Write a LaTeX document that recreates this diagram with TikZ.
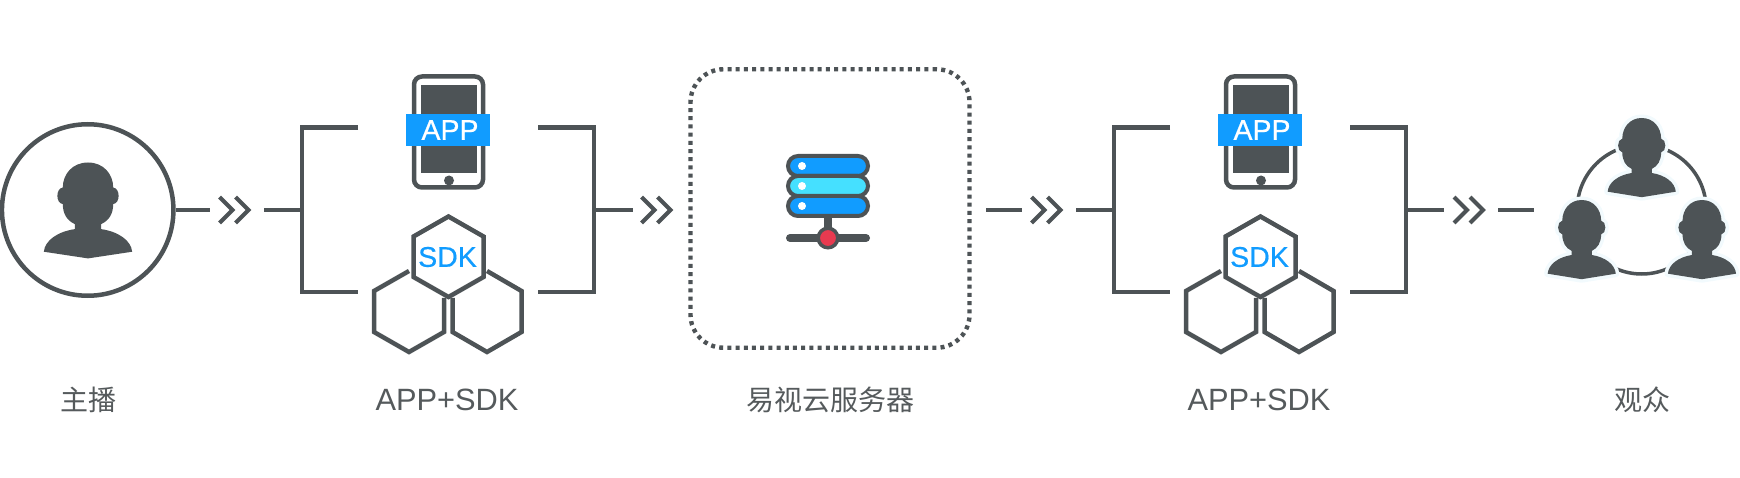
\documentclass[tikz,border=0pt]{standalone}
\usepackage{fontspec}
\setmainfont{Liberation Sans}
\newfontfamily\cjk{Noto Sans CJK SC}
\newfontfamily\semi[FakeBold=0.5]{Liberation Sans}
\definecolor{ink}{HTML}{4D5356}
\definecolor{txt}{HTML}{555A5C}
\definecolor{blu}{HTML}{119CFF}
\definecolor{cya}{HTML}{45E0FF}
\definecolor{rd}{HTML}{E83A50}
\definecolor{halo}{HTML}{F2FAFD}
\tikzset{
  wire/.style={draw=ink,line width=4.5pt,line join=miter},
  chevline/.style={draw=ink,line width=4.2pt},
  label/.style={font=\fontsize{28}{32}\selectfont,text=txt,inner sep=0pt,anchor=center},
  rowbox/.style={draw=ink,line width=4pt,rounded corners=10pt},
  pics/chev/.style={code={
    \draw[chevline] (0,-13)--(13,0)--(0,13);
    \draw[chevline] (16,-13)--(29,0)--(16,13);
  }}
}
\newcommand\personshape[5]{%
  \begin{scope}[shift={(#1,#2)},xscale=#3,yscale=#4]
  \path[#5] (0,0) .. controls (45,0) and (73,35) .. (73,75)
    .. controls (94,78) and (94,122) .. (73,125)
    .. controls (73,155) and (60,175) .. (38,185)
    -- (38,200) .. controls (90,208) and (125,235) .. (128,268)
    -- (0,288) -- (-128,268)
    .. controls (-125,235) and (-90,208) .. (-38,200)
    -- (-38,185) .. controls (-60,175) and (-73,155) .. (-73,125)
    .. controls (-94,122) and (-94,78) .. (-73,75)
    .. controls (-73,35) and (-45,0) .. (0,0) -- cycle;
  \end{scope}}
\newcommand\appsdk[2]{%
  \begin{scope}[xshift=#1pt]
    % phone
    \draw[ink,line width=4.5pt,rounded corners=8pt] (414,76.5) rectangle (483,187.5);
    \fill[ink] (420.5,85) rectangle (476.5,173);
    \fill[ink] (449,180.5) circle (5);
    \node[fill=blu,minimum width=84pt,minimum height=32pt,inner sep=0pt] (#2app) at (448,130) {};
    \node[text=white,inner sep=0pt,font=\semi\fontsize{28.5}{30}\selectfont] (#2apptxt) at (450,130) {APP};
    % hexagons
    \draw[wire] (409,271)--(374,291)--(374,332)--(409,352)--(444,332)--(444,298);
    \draw[wire] (487,271)--(521.5,291)--(521.5,332)--(487,352)--(452.5,332)--(452.5,298);
    \draw[wire] (448.5,216.5)--(483.5,236.5)--(483.5,277)--(448.5,297)--(413.5,277)--(413.5,236.5)--cycle;
    \node[text=blu,inner sep=0pt,font=\semi\fontsize{28.5}{30}\selectfont] (#2sdk) at (447.5,257) {SDK};
    % brackets
    \coordinate (#2lt) at (358,127.5);
    \coordinate (#2lb) at (358,292);
    \coordinate (#2lm) at (302,210);
    \coordinate (#2rt) at (538,127.5);
    \coordinate (#2rb) at (538,292);
    \coordinate (#2rm) at (594,210);
    \draw[wire] (#2lt) -| (#2lb -| #2lm) -- (#2lb);
    \draw[wire] (#2rt) -| (#2rb -| #2rm) -- (#2rb);
    \node[label,font=\fontsize{30.8}{34}\selectfont] (#2lab) at (447,400) {APP+SDK};
  \end{scope}}
\begin{document}
\begin{tikzpicture}[x=1pt,y=-1pt]
\useasboundingbox (0,0) rectangle (1740,478);
% host
\node[circle,draw=ink,line width=4.5pt,minimum size=171.5pt,inner sep=0pt] (host) at (87.7,210) {};
\personshape{88}{162.5}{0.345}{0.333}{fill=ink}
\node[label,font=\cjk\fontsize{28}{32}\selectfont] (hostlab) at (88,400) {主播};

\appsdk{0}{a}
\appsdk{812}{b}

% connectors
\coordinate (h1) at (210,210);
\coordinate (h2) at (264,210);
\draw[wire] (host.east) -- (h1);
\pic at (219.5,210) {chev};
\draw[wire] (h2) -- (alm);
\coordinate (s1) at (632.5,210);
\draw[wire] (arm) -- (s1);
\pic at (641.5,210) {chev};
\coordinate (s2) at (986,210);
\coordinate (s3) at (1022,210);
\draw[wire] (s2) -- (s3);
\pic at (1031.5,210) {chev};
\coordinate (s4) at (1076,210);
\draw[wire] (s4) -- (blm);
\coordinate (v1) at (1444,210);
\draw[wire] (brm) -- (v1);
\pic at (1454,210) {chev};
\coordinate (v2) at (1498,210);
\coordinate (v3) at (1534,210);
\draw[wire] (v2) -- (v3);

% server box
\node[draw=ink,line width=4.4pt,dash pattern=on 4pt off 4.2pt,rounded corners=33pt,minimum width=279pt,minimum height=278.5pt,inner sep=0pt] (srv) at (830,208.5) {};
\draw[ink,line width=8pt,line cap=round] (790,238) -- (866,238);
\draw[ink,line width=8pt] (828,218) -- (828,238);
\node[rowbox,fill=blu,minimum width=80pt,minimum height=20pt,inner sep=0pt] (r3) at (828,206) {};
\node[rowbox,fill=blu,minimum width=80pt,minimum height=20pt,inner sep=0pt] (r1) at (828,166) {};
\node[rowbox,fill=cya,minimum width=80pt,minimum height=20pt,inner sep=0pt] (r2) at (828,186) {};
\foreach \yy in {166,186,206} \fill[white] (802,\yy) circle (4);
\node[circle,draw=ink,fill=rd,line width=3.5pt,minimum size=19.5pt,inner sep=0pt] (led) at (828,238) {};
\node[label,font=\cjk\fontsize{28}{32}\selectfont] (srvlab) at (830,400) {易视云服务器};

% audience
\node[circle,draw=ink,line width=3.5pt,minimum size=129pt,inner sep=0pt] (ring) at (1641.7,209.5) {};
\foreach \px/\py in {1641.7/118,1581.7/200,1702/200}{
  \personshape{\px}{\py}{0.266}{0.275}{draw=halo,line width=7pt,line join=round,fill=white}
  \personshape{\px}{\py}{0.266}{0.275}{fill=ink}
}
\node[label,font=\cjk\fontsize{28}{32}\selectfont] (vlab) at (1642,400) {观众};
\end{tikzpicture}
\end{document}
